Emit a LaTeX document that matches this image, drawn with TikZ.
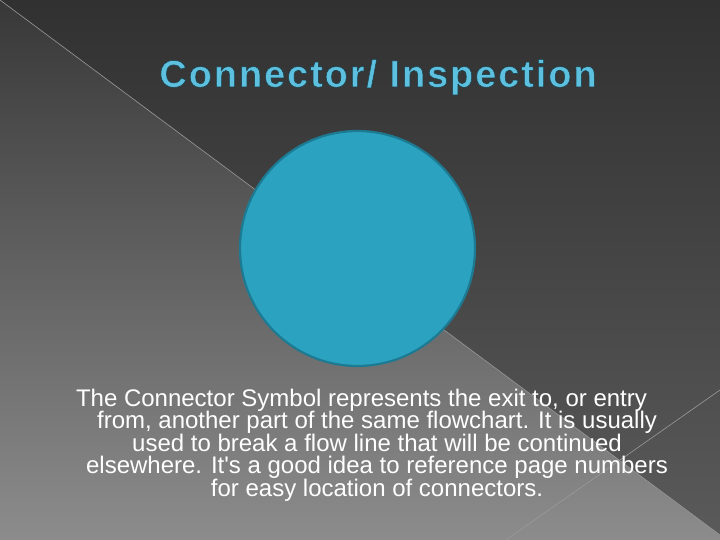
\documentclass[tikz,border=0pt]{standalone}
\usepackage{fontspec}
\setmainfont{Liberation Sans}
\newfontfamily\titlefont[LetterSpace=5]{Liberation Sans}
\usepackage{xcolor}
\usetikzlibrary{positioning}
\definecolor{bgtop}{HTML}{383838}
\definecolor{bgmid}{HTML}{464646}
\definecolor{bgbot}{HTML}{8C8C8C}
\definecolor{tritop}{HTML}{313131}
\definecolor{tribot}{HTML}{5A5A5A}
\definecolor{slideline}{HTML}{9A9A9A}
\definecolor{connfill}{HTML}{2BA3C0}
\definecolor{conndraw}{HTML}{1D7A93}
\definecolor{titleblue}{HTML}{5CC0DE}
% outlined glyphs for the heading (fill + stroke)
\newcommand{\rimtext}[1]{\special{pdf:literal direct 2 Tr 0.5 w 0.086 0.247 0.298 RG}#1\special{pdf:literal direct 0 Tr}}

\begin{document}
\begin{tikzpicture}[
    x=1pt, y=-1pt,
    heading/.style={inner sep=0pt, anchor=base, text=titleblue, font=\titlefont\bfseries\fontsize{38}{42}\selectfont},
    symbol/.style={circle, draw=conndraw, line width=2.2pt, fill=connfill, minimum size=235pt, inner sep=0pt},
    caption/.style={inner sep=0pt, anchor=north, align=center, text=white, font=\fontsize{24}{22.5}\selectfont}
]
    % slide background
    \useasboundingbox (0,0) rectangle (720,540);
    \shade[top color=bgtop, middle color=bgmid, bottom color=bgbot] (0,0) rectangle (720,540);
    \shade[top color=tritop, bottom color=tribot] (0,0) -- (720,0) -- (720,535) -- cycle;
    \draw[slideline, line width=0.6pt] (0,0) -- (720,535);
    \draw[slideline, line width=0.6pt] (720,390) -- (506,540);

    \node[heading] (title) at (378,87) {\rimtext{Connector/ Inspection}};

    \node[symbol] (conn) at (357.5,248.5) {};

    \node[caption] (text) at (377,388.5) {The Connector Symbol represents the exit to, or entry\hspace*{31pt}\\
        from, another part of the same flowchart. It is usually\\
        used to break a flow line that will be continued\\
        elsewhere. It\textquotesingle s a good idea to reference page numbers\\
        for easy location of connectors.};
\end{tikzpicture}
\end{document}
